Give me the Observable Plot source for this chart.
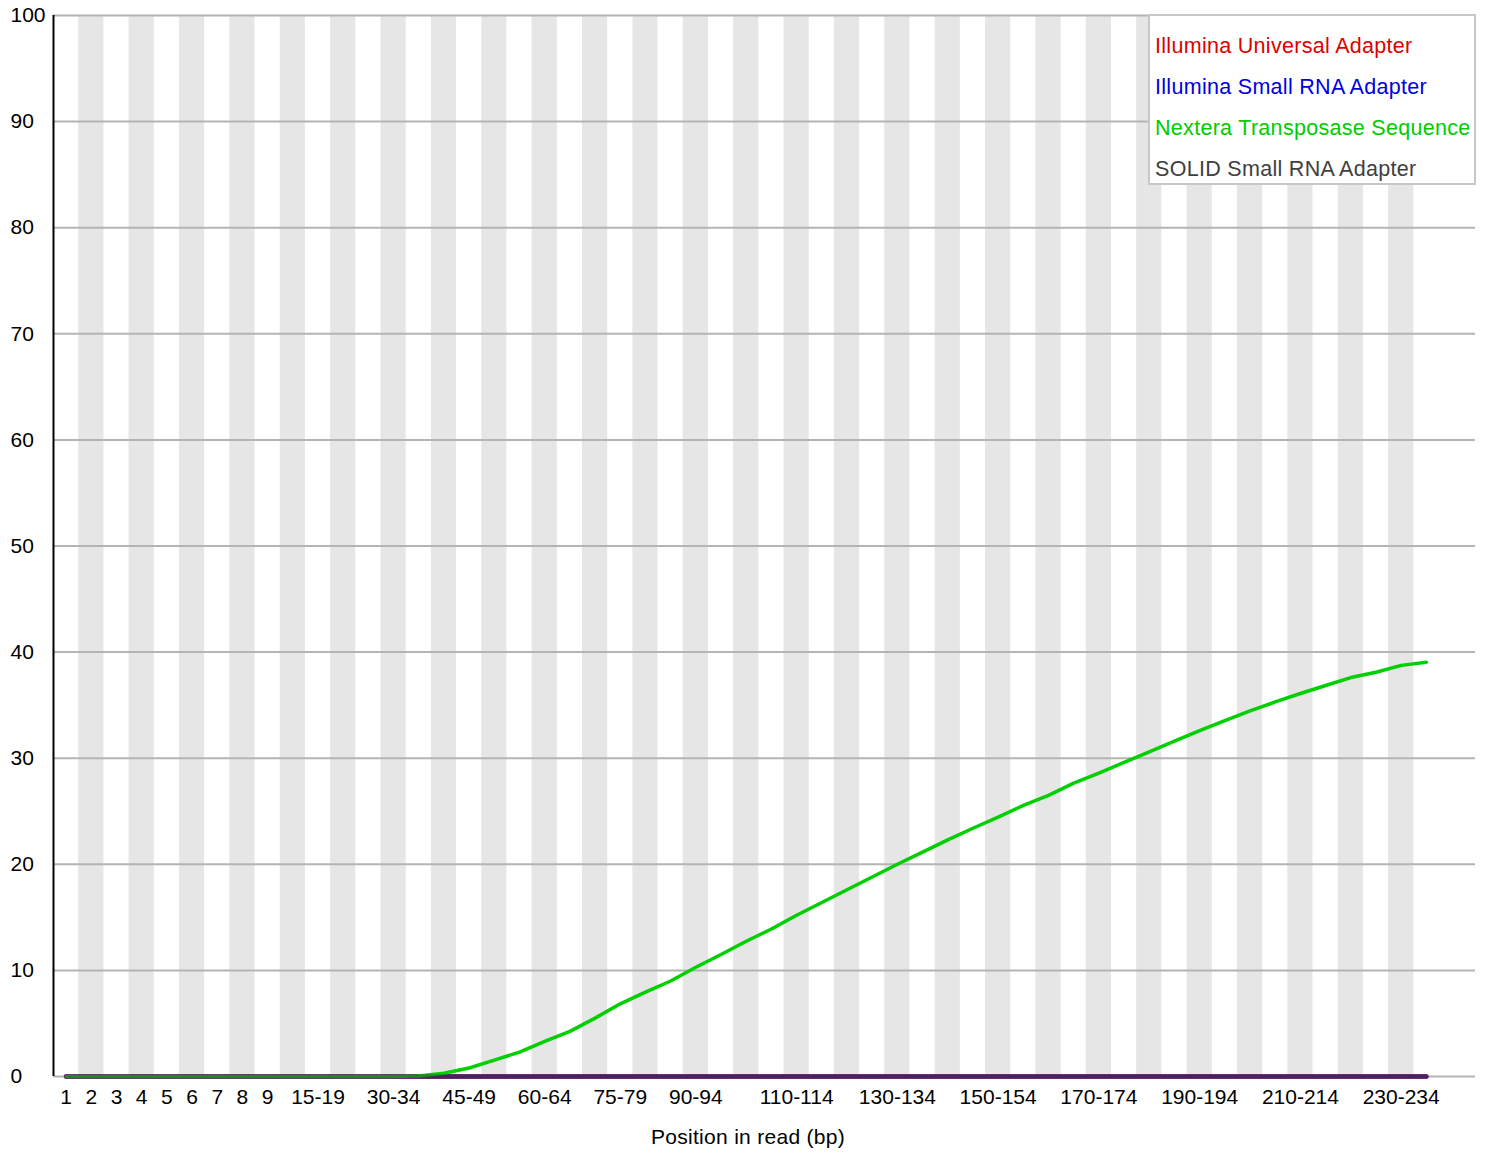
<!DOCTYPE html>
<html>
<head>
<meta charset="utf-8">
<script src="https://cdn.jsdelivr.net/npm/d3@7"></script>
<script src="https://cdn.jsdelivr.net/npm/@observablehq/plot@0.6"></script>
<style>
  html, body { margin: 0; padding: 0; background: #fff; }
  #wrap { position: relative; width: 1487px; height: 1157px; font-family: "Liberation Sans", Arial, sans-serif; }
  #legend { position: absolute; left: 1148px; top: 14px; width: 328px; height: 171px; border: 2px solid #c8c8c8; background: #fff; box-sizing: border-box; }
  #legend div { position: absolute; left: 5px; font-size: 21.5px; letter-spacing: 0.3px; white-space: nowrap; line-height: 1; }
  #xtitle { position: absolute; left: 748px; top: 1126px; transform: translateX(-50%); font-size: 21px; letter-spacing: 0.3px; color: #000; white-space: nowrap; line-height: 1; }
</style>
</head>
<body>
<div id="wrap">
  <div id="chart"></div>
  <div id="legend"></div>
  <div id="xtitle">Position in read (bp)</div>
</div>
<script>
// Categories (positions in read)
const positions = ["1","2","3","4","5","6","7","8","9",
  "10-14","15-19","20-24","25-29","30-34","35-39","40-44","45-49","50-54","55-59",
  "60-64","65-69","70-74","75-79","80-84","85-89","90-94","95-99","100-104","105-109",
  "110-114","115-119","120-124","125-129","130-134","135-139","140-144","145-149",
  "150-154","155-159","160-164","165-169","170-174","175-179","180-184","185-189",
  "190-194","195-199","200-204","205-209","210-214","215-219","220-224","225-229",
  "230-234","235-239"];

// Tick labels shown on the x axis
const xTickLabels = ["1","2","3","4","5","6","7","8","9","15-19","30-34","45-49","60-64",
  "75-79","90-94","110-114","130-134","150-154","170-174","190-194","210-214","230-234"];

// Series values (% of reads)
const illuminaUniversal = positions.map(() => 0);
const illuminaSmallRNA = positions.map(() => 0);
const solidSmallRNA = positions.map(() => 0);
const nextera = [0,0,0,0,0,0,0,0,0,
  0,0,0,0,0,0.05,0.3,0.8,1.55,2.3,
  3.3,4.25,5.5,6.85,7.95,9.0,10.3,11.5,12.75,13.9,
  15.2,16.4,17.6,18.8,20.0,21.15,22.3,23.4,
  24.45,25.55,26.5,27.65,28.6,29.6,30.6,31.6,
  32.6,33.55,34.45,35.3,36.1,36.85,37.6,38.1,
  38.75,39.05];

const yTicks = [0,10,20,30,40,50,60,70,80,90,100];

const seriesNames = ["Illumina Universal Adapter","Illumina Small RNA Adapter","Nextera Transposase Sequence","SOLID Small RNA Adapter"];
const seriesColors = ["#e00000","#0000e0","#00d000","#404040"];
const legendTextColors = ["#e00000","#0000e0","#00cc00","#404040"];

const idx = positions.map((_, i) => i);
const mk = (vals) => vals.map((v, i) => ({i, v}));
const stripes = idx.filter(i => i % 2 === 1);
const tickIdx = xTickLabels.map(l => positions.indexOf(l));

const chart = Plot.plot({
  width: 1487,
  height: 1157,
  marginLeft: 53,
  marginRight: 12,
  marginTop: 15,
  marginBottom: 81,
  style: { fontFamily: "'Liberation Sans', Arial, sans-serif", fontSize: "21px", background: "#fff", color: "#000" },
  x: { domain: [-0.5, 55.95], axis: null },
  y: { domain: [0, 100], axis: null },
  marks: [
    Plot.rect(stripes, { x1: d => d - 0.5, x2: d => d + 0.5, y1: 0, y2: 100, fill: "#e6e6e6" }),
    Plot.ruleY(yTicks, { stroke: "#b4b4b4", strokeWidth: 2 }),
    Plot.ruleX([-0.5], { stroke: "#000", strokeWidth: 2 }),
    Plot.axisY({ ticks: yTicks, tickSize: 0, tickPadding: 0, textAnchor: "start", dx: -43, fontSize: 21, label: null }),
    Plot.axisX({ ticks: tickIdx, tickSize: 0, tickPadding: 13, tickFormat: i => positions[i], fontSize: 21, label: null }),
    Plot.line(mk(illuminaUniversal), { x: "i", y: "v", stroke: seriesColors[0], strokeWidth: 4.5 }),
    Plot.line(mk(illuminaSmallRNA), { x: "i", y: "v", stroke: seriesColors[1], strokeWidth: 4.5, strokeOpacity: 0.6 }),
    Plot.line(mk(nextera), { x: "i", y: "v", stroke: seriesColors[2], strokeWidth: 3.5 }),
    Plot.line(mk(solidSmallRNA), { x: "i", y: "v", stroke: seriesColors[3], strokeWidth: 4.5, strokeOpacity: 0.5 })
  ]
});
document.getElementById("chart").appendChild(chart);

const legend = document.getElementById("legend");
seriesNames.forEach((name, k) => {
  const d = document.createElement("div");
  d.textContent = name;
  d.style.color = legendTextColors[k];
  d.style.top = (20 + k * 41) + "px";
  legend.appendChild(d);
});
</script>
</body>
</html>
